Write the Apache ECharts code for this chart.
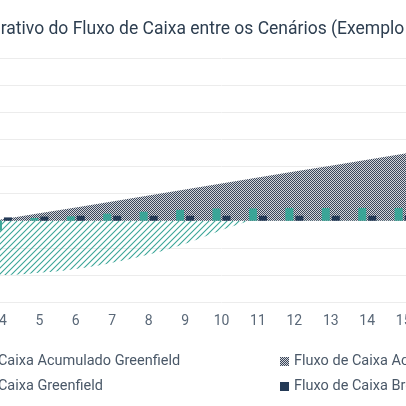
<!DOCTYPE html>
<html><head><meta charset="utf-8">
<script src="https://cdn.jsdelivr.net/npm/echarts@6/dist/echarts.min.js"></script>
<style>html,body{margin:0;padding:0;overflow:hidden;width:406px;height:406px;background:#fff}
#c{position:absolute;left:-200px;top:0;width:840px;height:406px}</style>
</head><body><div id="c"></div>
<script>
const categories = ['0','1','2','3','4','5','6','7','8','9','10','11','12','13','14','15','16','17','18','19','20'];
const greenAcc = [-0.6,-1.1,-1.4,-1.65,-2.0,-1.92,-1.78,-1.55,-1.25,-0.85,-0.35,0.1,0.55,1.0,1.45,1.9,2.35,2.8,3.25,3.7,4.15];
const brownAcc = [-0.5,-0.35,-0.2,-0.05,0.05,0.27,0.49,0.71,0.93,1.15,1.37,1.59,1.81,2.03,2.25,2.47,2.69,2.91,3.13,3.35,3.57];
const greenFlow = [-0.6,-0.5,-0.3,-0.25,-0.37,0.1,0.16,0.26,0.33,0.4,0.45,0.45,0.47,0.47,0.47,0.47,0.47,0.47,0.47,0.47,0.47];
const brownFlow = [-0.5,0.15,0.15,0.15,0.12,0.15,0.18,0.18,0.18,0.18,0.18,0.18,0.18,0.18,0.18,0.18,0.18,0.18,0.18,0.18,0.18];

function hatch(){const c=document.createElement('canvas');c.width=6;c.height=6;const g=c.getContext('2d');
g.strokeStyle='#3aa597';g.lineWidth=1.1;g.beginPath();g.moveTo(0,6);g.lineTo(6,0);g.moveTo(-1,1);g.lineTo(1,-1);g.moveTo(5,7);g.lineTo(7,5);g.stroke();return c;}
function checker(){const c=document.createElement('canvas');c.width=2;c.height=2;const g=c.getContext('2d');
g.fillStyle='#d2d5da';g.fillRect(0,0,2,2);g.fillStyle='#3a465a';g.fillRect(0,0,1,1);g.fillRect(1,1,1,1);return c;}
const hp={image:hatch(),repeat:'repeat'}, cp={image:checker(),repeat:'repeat'};
const names=['Fluxo de Caixa Acumulado Greenfield','Fluxo de Caixa Acumulado Brownfield','Fluxo de Caixa Greenfield','Fluxo de Caixa Brownfield'];
const ch=echarts.init(document.getElementById('c'));
const legendBase={orient:'vertical',top:349,itemWidth:9,itemHeight:9,itemGap:10,icon:'rect',
 textStyle:{fontFamily:'Roboto',fontSize:14.5,color:'#4a5868'}};
ch.setOption({
 animation:false,
 title:{text:'Comparativo do Fluxo de Caixa entre os Cenários (Exemplo Hipotético)',left:'center',top:16,
  textStyle:{fontFamily:'Roboto',fontSize:17.5,fontWeight:'normal',color:'#2d3e50'}},
 legend:[Object.assign({left:121,data:[names[0],names[2]]},legendBase),Object.assign({left:475,data:[names[1],names[3]]},legendBase)],
 grid:{left:39,right:36,top:58,bottom:104},
 xAxis:{type:'category',data:categories,axisLine:{show:false},axisTick:{show:false},
  axisLabel:{fontFamily:'Roboto',fontSize:14,color:'#5a6878',margin:12}},
 yAxis:{type:'value',min:-3,max:6,interval:1,axisLabel:{show:false},splitLine:{lineStyle:{color:'#ececec'}}},
 series:[
  {name:names[0],type:'line',data:greenAcc,symbol:'none',smooth:true,lineStyle:{width:0},areaStyle:{color:hp,opacity:1},itemStyle:{color:hp},z:1},
  {name:names[1],type:'line',data:brownAcc,symbol:'none',lineStyle:{width:0},areaStyle:{color:cp,opacity:1},itemStyle:{color:cp},z:2},
  {name:names[2],type:'bar',data:greenFlow,barWidth:8,barGap:'25%',itemStyle:{color:'#3aa597'},z:5},
  {name:names[3],type:'bar',data:brownFlow,barWidth:8,itemStyle:{color:'#243a56'},z:5}
 ]
});
</script></body></html>
